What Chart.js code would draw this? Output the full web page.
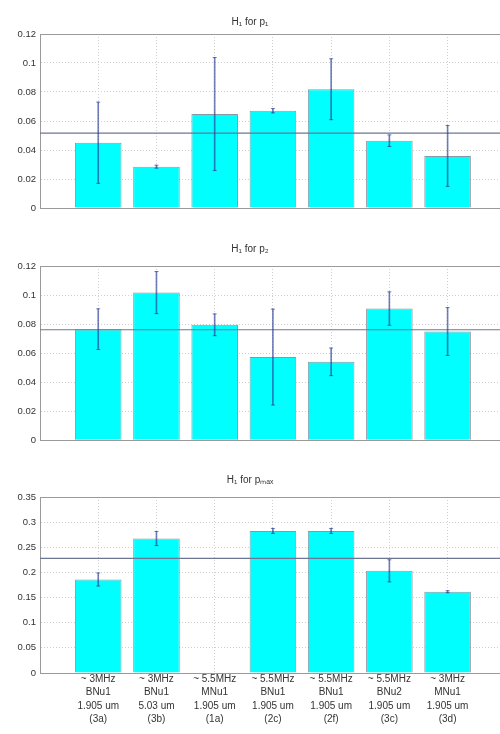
<!DOCTYPE html>
<html>
<head>
<meta charset="UTF-8">
<title>H1 bars</title>
<script src="https://cdn.jsdelivr.net/npm/chart.js"></script>
<style>
  body { margin: 0; background: #fff; }
  .box { position: absolute; left: 0; width: 500px; }
</style>
</head>
<body>
<div class="box" style="top:0;height:218px"><canvas id="c1"></canvas></div>
<div class="box" style="top:230px;height:220px"><canvas id="c2"></canvas></div>
<div class="box" style="top:455px;height:279px"><canvas id="c3"></canvas></div>

<script>
// categories (positions 1..7 on the x axis)
const xPos = [1, 2, 3, 4, 5, 6, 7];
const xLabels = [
  ['~ 3MHz', 'BNu1', '1.905 um', '(3a)'],
  ['~ 3MHz', 'BNu1', '5.03 um', '(3b)'],
  ['~ 5.5MHz', 'MNu1', '1.905 um', '(1a)'],
  ['~ 5.5MHz', 'BNu1', '1.905 um', '(2c)'],
  ['~ 5.5MHz', 'BNu1', '1.905 um', '(2f)'],
  ['~ 5.5MHz', 'BNu2', '1.905 um', '(3c)'],
  ['~ 3MHz', 'MNu1', '1.905 um', '(3d)']
];

// series values
const vals1 = [0.045, 0.0285, 0.0648, 0.0671, 0.0819, 0.0464, 0.0359];
const err1  = [0.028, 0.001, 0.039, 0.0015, 0.021, 0.004, 0.021];
const vals2 = [0.0765, 0.1017, 0.0795, 0.0573, 0.054, 0.0907, 0.0749];
const err2  = [0.014, 0.0145, 0.0075, 0.033, 0.0095, 0.0115, 0.0165];
const vals3 = [0.186, 0.2674, null, 0.2825, 0.2825, 0.2032, 0.1616];
const err3  = [0.013, 0.014, null, 0.005, 0.005, 0.022, 0.002];
const means = [0.0517, 0.0761, 0.2278];

// y tick values / labels
const yTicksA = [0, 0.02, 0.04, 0.06, 0.08, 0.1, 0.12];
const yLabelsA = ['0', '0.02', '0.04', '0.06', '0.08', '0.1', '0.12'];
const yTicksB = [0, 0.05, 0.1, 0.15, 0.2, 0.25, 0.3, 0.35];
const yLabelsB = ['0', '0.05', '0.1', '0.15', '0.2', '0.25', '0.3', '0.35'];

const titles = ['H\u2081 for p\u2081', 'H\u2081 for p\u2082', 'H\u2081 for p\u2098\u2090\u2093'];

Chart.defaults.font.family = '"Liberation Sans", Arial, sans-serif';
Chart.defaults.color = '#333';
Chart.defaults.animation = false;

const XMAX = 7.9;
const errColor = 'rgba(40, 60, 150, 0.65)';

// top edge of the axes box
const frame = {
  id: 'frame',
  afterDatasetsDraw(chart) {
    const a = chart.chartArea, ctx = chart.ctx;
    ctx.save();
    ctx.strokeStyle = '#9a9a9a';
    ctx.lineWidth = 1;
    ctx.beginPath();
    ctx.moveTo(a.left, a.top + 0.5);
    ctx.lineTo(a.right, a.top + 0.5);
    ctx.stroke();
    ctx.restore();
  }
};

function makeChart(id, idx, vals, err, yTicks, yLabels, ymax, opt) {
  const bars = xPos.map((x, i) => ({ x: x, y: vals[i] }));
  const ebars = [], caps = [];
  xPos.forEach((x, i) => {
    if (vals[i] == null) return;
    ebars.push({ x: x, y: [vals[i] - err[i], vals[i] + err[i]] });
    caps.push({ x: x, y: vals[i] - err[i] });
    caps.push({ x: x, y: vals[i] + err[i] });
  });

  return new Chart(document.getElementById(id), {
    type: 'bar',
    data: {
      datasets: [
        {
          type: 'bar', data: bars, grouped: false, order: 3,
          backgroundColor: '#00ffff', borderColor: 'rgba(40,70,90,0.55)', borderWidth: 1,
          categoryPercentage: 1, barPercentage: 0.8
        },
        {
          type: 'line', data: [{ x: 0, y: means[idx] }, { x: XMAX, y: means[idx] }], order: 2,
          borderColor: '#6d7694', borderWidth: 1.2, pointRadius: 0, fill: false
        },
        {
          type: 'bar', data: ebars, grouped: false, order: 1,
          backgroundColor: errColor, borderWidth: 0, barThickness: 1
        },
        {
          type: 'line', data: caps, showLine: false, order: 0,
          pointStyle: 'line', pointRadius: 2, borderColor: errColor, borderWidth: 1
        }
      ]
    },
    options: {
      responsive: true,
      maintainAspectRatio: false,
      layout: { autoPadding: false, padding: { left: 0, right: 0, top: 0, bottom: opt.padBottom } },
      plugins: {
        legend: { display: false },
        tooltip: { enabled: false },
        title: {
          display: true, text: titles[idx], color: '#333',
          font: { size: 10, weight: 'normal' },
          padding: { top: opt.titleTop, bottom: opt.titleBottom }
        }
      },
      scales: {
        x: {
          type: 'linear', min: 0, max: XMAX, offset: false,
          afterBuildTicks: s => { s.ticks = xPos.map(v => ({ value: v })); },
          afterFit: s => { s.height = opt.xHeight; },
          grid: { color: '#cfcfcf', drawTicks: false, offset: false },
          border: { color: '#9a9a9a', dash: [1, 2] },
          ticks: {
            display: opt.showX, padding: -1, maxRotation: 0, autoSkip: false,
            font: { size: 10, lineHeight: 1.35 }, color: '#333',
            callback: (v) => xLabels[xPos.indexOf(v)] || ''
          }
        },
        y: {
          min: 0, max: ymax,
          afterBuildTicks: s => { s.ticks = yTicks.map(v => ({ value: v })); },
          afterFit: s => { s.width = 40; },
          grid: { color: '#cfcfcf', drawTicks: false },
          border: { color: '#9a9a9a', dash: [1, 2] },
          ticks: {
            padding: 4, font: { size: 9.5 }, color: '#333',
            callback: (v, i) => yLabels[i]
          }
        }
      }
    },
    plugins: [frame]
  });
}

makeChart('c1', 0, vals1, err1, yTicksA, yLabelsA, 0.12,
  { padBottom: 10, titleTop: 16, titleBottom: 6, xHeight: 0, showX: false });
makeChart('c2', 1, vals2, err2, yTicksA, yLabelsA, 0.12,
  { padBottom: 9, titleTop: 13, titleBottom: 11, xHeight: 0, showX: false });
makeChart('c3', 2, vals3, err3, yTicksB, yLabelsB, 0.35,
  { padBottom: 5, titleTop: 19, titleBottom: 11, xHeight: 56, showX: true });
</script>
</body>
</html>
